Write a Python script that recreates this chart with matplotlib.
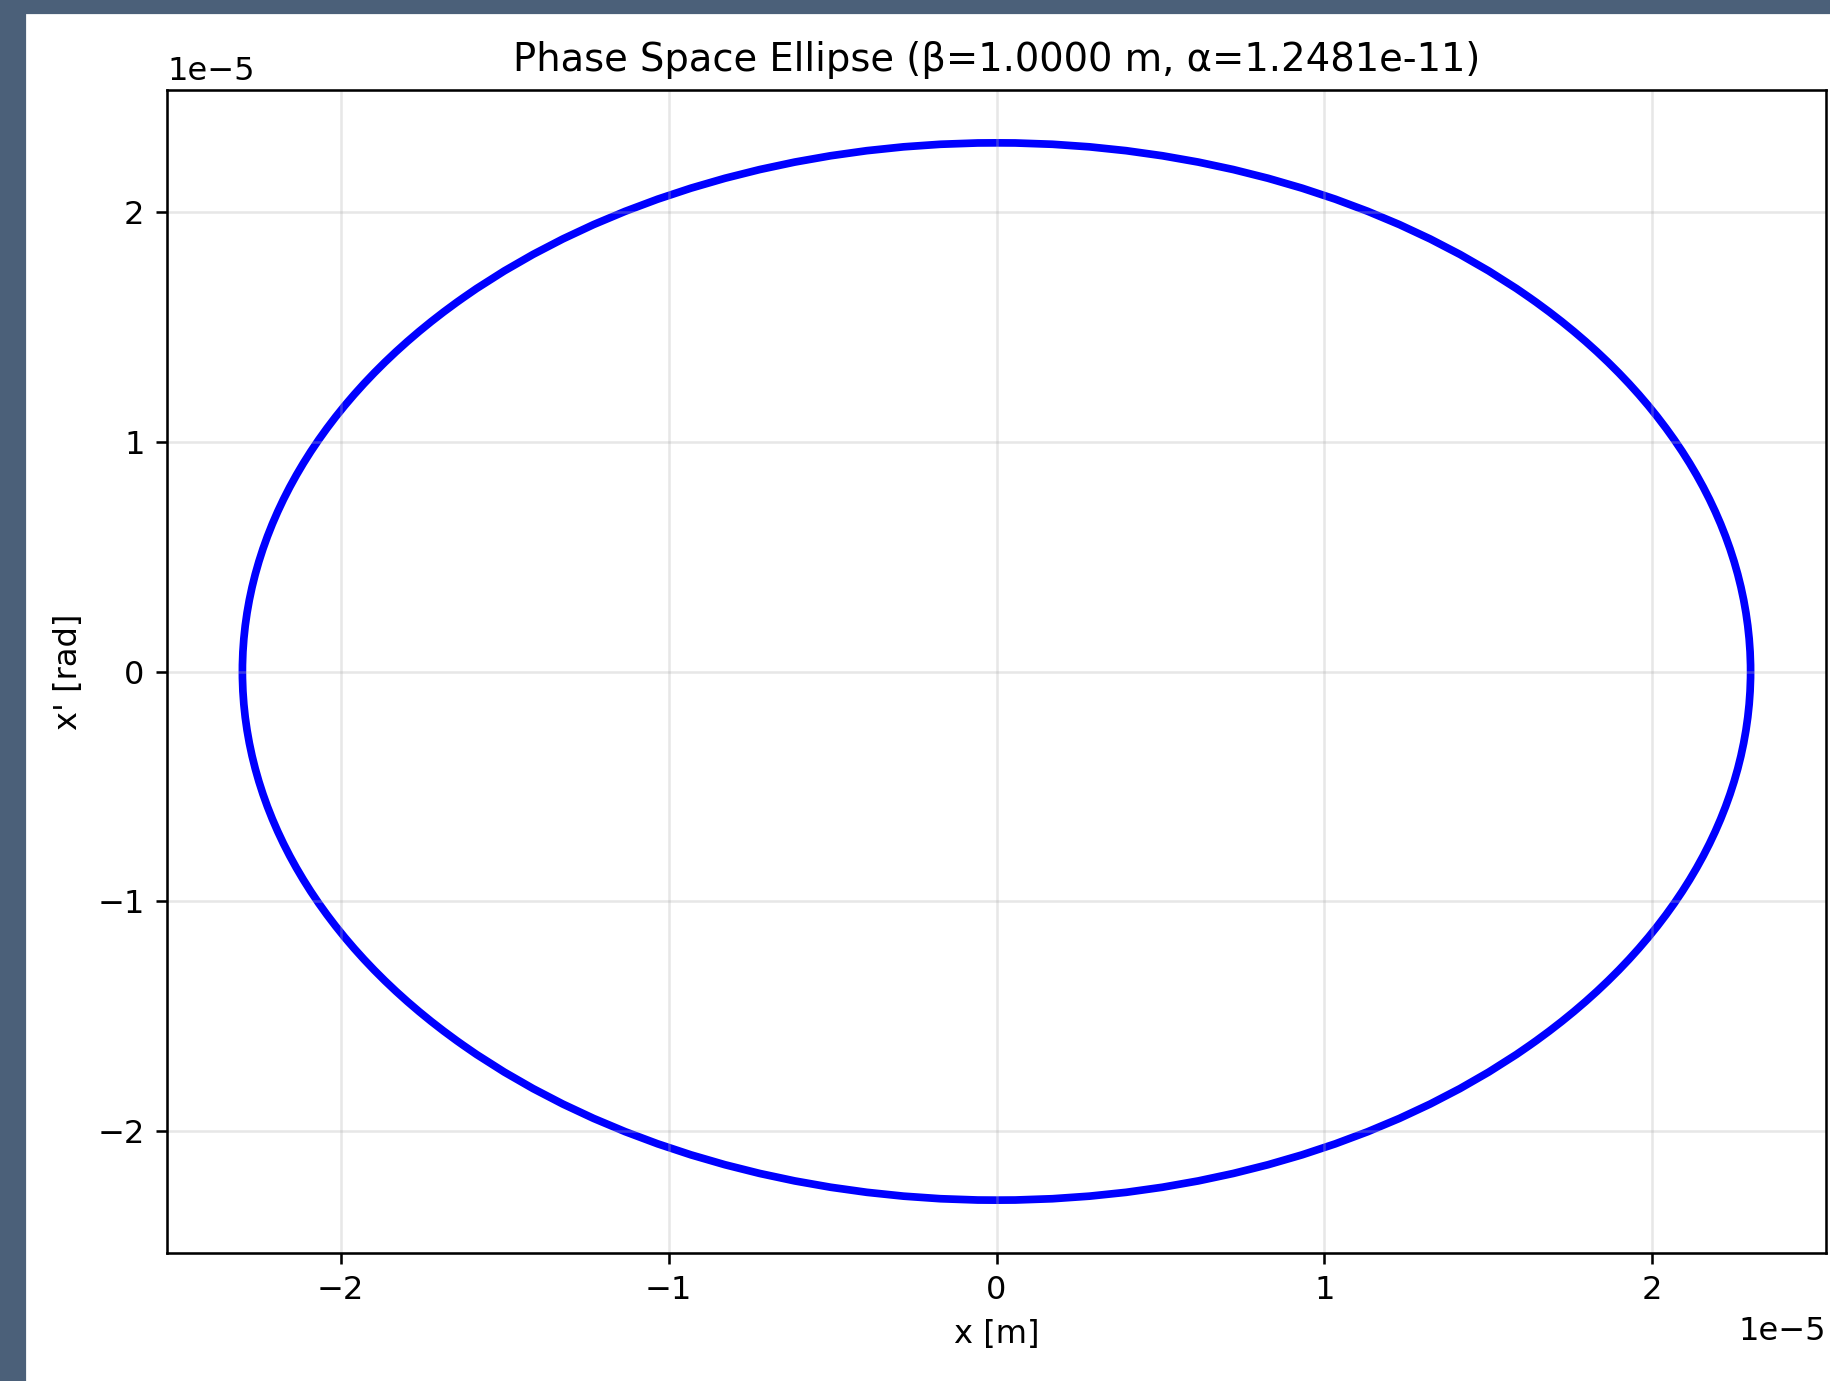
import matplotlib
matplotlib.use("Agg")
import matplotlib.pyplot as plt
from matplotlib.patches import Ellipse, Rectangle

# Twiss parameters / emittance
beta = 1.0          # m
alpha = 1.2481e-11
x_max = 2.3e-5      # half width of ellipse in x [m]
xp_max = 2.3e-5     # half height of ellipse in x' [rad]

dpi = 231
fig = plt.figure(figsize=(1830 / dpi, 1381 / dpi), dpi=dpi)

# dark frame of the screenshot (left and top band)
frame_col = "#4b6079"
fig.patches.append(Rectangle((0, 0), 24 / 1830, 1, transform=fig.transFigure,
                             color=frame_col, zorder=-5))
fig.patches.append(Rectangle((0, 1 - 12 / 1381), 1, 12 / 1381, transform=fig.transFigure,
                             color=frame_col, zorder=-5))

ax = fig.add_axes([167 / 1830, 128 / 1381, 1659 / 1830, 1163 / 1381])

ell = Ellipse((0, 0), width=2 * x_max, height=2 * xp_max, fill=False,
              edgecolor="blue", linewidth=2.4)
ax.add_patch(ell)
# same 5% margins as a plain plot would give
ax.set_xlim(-x_max * 1.1, x_max * 1.1)
ax.set_ylim(-xp_max * 1.1, xp_max * 1.1)

ax.set_xlabel("x [m]")
ax.set_ylabel("x' [rad]")
ax.set_title(f"Phase Space Ellipse (β={beta:.4f} m, α={alpha:.4e})")
ax.grid(True, alpha=0.3)
ax.ticklabel_format(style="sci", scilimits=(0, 0))

fig.savefig("out.png", dpi=dpi)
